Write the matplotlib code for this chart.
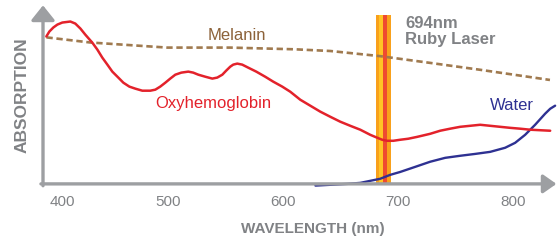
import matplotlib
matplotlib.use("Agg")
import matplotlib.pyplot as plt
from matplotlib import transforms

plt.rcParams['font.family'] = ['Liberation Sans', 'DejaVu Sans']

# ---- data ----
oxy_wl = [393.9, 396.5, 400.0, 403.5, 407.8, 414.8, 419.1, 423.5, 427.8, 433.9,
          438.3, 442.6, 447.0, 451.3, 456.5, 460.9, 466.1, 471.3, 477.4, 484.3,
          488.7, 493.0, 497.4, 501.7, 506.1, 511.3, 517.4, 521.7, 526.1, 532.2,
          538.3, 542.6, 547.0, 550.4, 553.9, 556.5, 560.0, 564.3, 569.6, 576.5,
          584.3, 591.3, 599.1, 606.1, 614.8, 623.5, 632.2, 640.9, 649.6, 658.3,
          667.0, 675.7, 681.7, 686.1, 690.4, 695.7, 701.7, 708.7, 716.5, 727.8,
          736.5, 745.2, 753.9, 762.6, 771.3, 780.0, 788.7, 797.4, 806.1, 814.8,
          823.5, 832.2]
oxy_abs = [0.865, 0.894, 0.918, 0.935, 0.947, 0.953, 0.941, 0.912, 0.876, 0.829,
           0.788, 0.741, 0.700, 0.659, 0.624, 0.594, 0.571, 0.559, 0.547, 0.547,
           0.553, 0.571, 0.594, 0.618, 0.641, 0.653, 0.659, 0.653, 0.641, 0.629,
           0.618, 0.624, 0.641, 0.665, 0.688, 0.700, 0.706, 0.700, 0.682, 0.659,
           0.629, 0.600, 0.571, 0.541, 0.494, 0.459, 0.424, 0.394, 0.365, 0.341,
           0.318, 0.288, 0.271, 0.259, 0.253, 0.253, 0.259, 0.265, 0.276, 0.294,
           0.312, 0.324, 0.335, 0.341, 0.347, 0.341, 0.335, 0.329, 0.324, 0.318,
           0.315, 0.312]

mel_wl = [394, 432, 499, 554, 610, 641, 684, 728, 771, 832]
mel_abs = [0.86, 0.83, 0.80, 0.80, 0.79, 0.78, 0.75, 0.71, 0.67, 0.61]

water_wl = [628.0, 655.7, 667.0, 675.7, 684.3, 693.0, 701.7, 714.8, 727.8, 740.9,
            753.9, 767.0, 780.0, 793.0, 801.7, 810.4, 819.1, 827.8, 832.2, 836.5]
water_abs = [-0.01, 0.000, 0.006, 0.018, 0.030, 0.053, 0.070, 0.100, 0.130, 0.153,
             0.165, 0.176, 0.188, 0.212, 0.241, 0.288, 0.347, 0.412, 0.441, 0.459]

laser_band = (681, 694)      # drawn extent of the ruby laser bar
laser_label = ["694nm", "Ruby Laser"]
xticks = [400, 500, 600, 700, 800]

# ---- figure ----
fig = plt.figure(figsize=(5.58, 2.41), dpi=100)
ax = fig.add_axes([43/558, 52/241, 515/558, 184/241])
ax.set_xlim(391, 839)
ax.set_ylim(-0.03, 1.05)
for s in ax.spines.values():
    s.set_visible(False)
ax.set_yticks([])
ax.set_xticks([])

axis_gray = '#9d9fa2'
text_gray = '#808285'

# laser bar
x0, x1 = laser_band
w = x1 - x0
ymin, ymax = 0.03/1.08, (0.99+0.03)/1.08
ax.axvspan(x0, x1, ymin=ymin, ymax=ymax, color='#f9a11b', lw=0, zorder=1)
ax.axvspan(x0 + 0.15*w, x0 + 0.42*w, ymin=ymin, ymax=ymax, color='#ffc425', lw=0, zorder=1)
ax.axvspan(x0 + 0.45*w, x0 + 0.72*w, ymin=ymin, ymax=ymax, color='#ef4a30', lw=0, zorder=1)

# curves
ax.plot(water_wl, water_abs, color='#2e3192', lw=1.7, zorder=2,
        solid_capstyle='round', solid_joinstyle='round')
ax.plot(mel_wl, mel_abs, color='#a07a4f', lw=1.9, ls=(0, (2.4, 1.4)), zorder=3)
ax.plot(oxy_wl, oxy_abs, color='#e3222b', lw=1.8, zorder=4,
        solid_capstyle='round', solid_joinstyle='round')

# axis arrows (drawn in axes-fraction coordinates)
y0 = 0.03/1.08
ax.annotate('', xy=(1.0 - 0.003, y0), xytext=(-0.004, y0), xycoords='axes fraction',
            arrowprops=dict(arrowstyle='-|>,head_length=0.4,head_width=0.28',
                            mutation_scale=20, color=axis_gray, lw=2.4,
                            shrinkA=0, shrinkB=0), annotation_clip=False, zorder=5)
ax.annotate('', xy=(0.0, 1.0 - 0.002), xytext=(0.0, y0 - 0.01), xycoords='axes fraction',
            arrowprops=dict(arrowstyle='-|>,head_length=0.45,head_width=0.36',
                            mutation_scale=20, color=axis_gray, lw=2.4,
                            shrinkA=0, shrinkB=0), annotation_clip=False, zorder=5)

# tick labels
for i, t in enumerate(xticks):
    off = transforms.ScaledTranslation(9/100 if i == 0 else 0, -11/100, fig.dpi_scale_trans)
    tr = transforms.blended_transform_factory(ax.transData, ax.transAxes) + off
    ax.text(t, y0, str(t), transform=tr, ha='center', va='top',
            fontsize=11, color=text_gray, clip_on=False)

# labels
ax.text(560, 0.87, 'Melanin', color='#8c6239', fontsize=12, ha='center', va='center')
ax.text(539, 0.47, 'Oxyhemoglobin', color='#e3222b', fontsize=12, ha='center', va='center')
ax.text(799, 0.46, 'Water', color='#2e3192', fontsize=12, ha='center', va='center')
ax.text(706, 0.915, laser_label[0], color=text_gray, fontsize=12, fontweight='bold',
        ha='left', va='baseline')
ax.text(706, 0.82, laser_label[1], color=text_gray, fontsize=12, fontweight='bold',
        ha='left', va='baseline')

fig.text(22/558, 1 - 95/241, 'ABSORPTION', rotation=90, ha='center', va='center',
         fontsize=12.5, color=text_gray, fontweight='bold')
fig.text(313/558, 1 - 229/241, 'WAVELENGTH (nm)', ha='center', va='center',
         fontsize=11, color=text_gray, fontweight='bold')

fig.savefig('out.png', dpi=100)
